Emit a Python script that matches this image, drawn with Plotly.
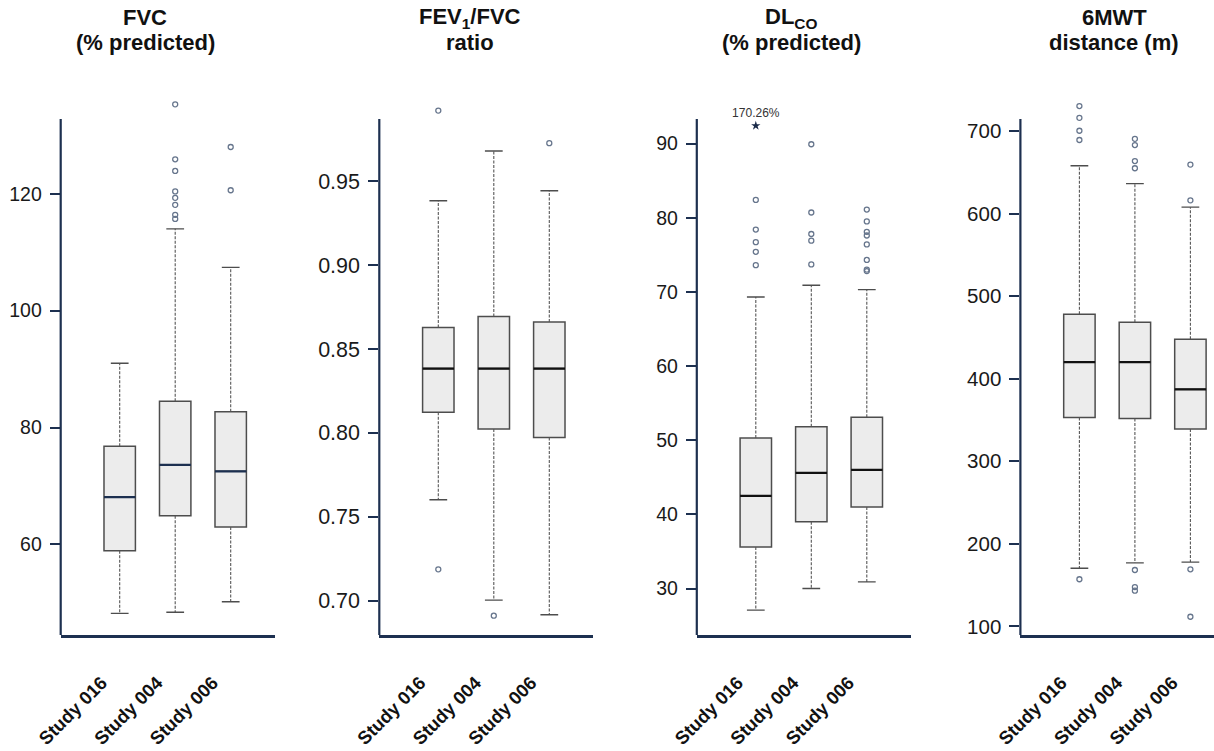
import plotly.graph_objects as go

# ---------------- data ----------------
studies = ["Study 016", "Study 004", "Study 006"]

fvc_q1 = [58.9, 64.9, 63.0]
fvc_med = [68.1, 73.6, 72.5]
fvc_q3 = [76.8, 84.5, 82.7]
fvc_lo = [48.2, 48.4, 50.2]
fvc_hi = [91.0, 114.0, 107.4]
fvc_out = [[], [135.3, 125.9, 123.9, 120.4, 119.3, 118.1, 116.4, 115.7], [128.0, 120.6]]

ratio_q1 = [0.8123, 0.8023, 0.7972]
ratio_med = [0.8383, 0.8383, 0.8383]
ratio_q3 = [0.8628, 0.8694, 0.8660]
ratio_lo = [0.7602, 0.7004, 0.6917]
ratio_hi = [0.9383, 0.9679, 0.9443]
ratio_out = [[0.992, 0.7187], [0.6911], [0.9726]]

dlco_q1 = [35.6, 39.0, 41.0]
dlco_med = [42.5, 45.6, 46.0]
dlco_q3 = [50.3, 51.8, 53.1]
dlco_lo = [27.1, 30.0, 30.9]
dlco_hi = [69.3, 70.9, 70.3]
dlco_out = [[82.4, 78.4, 76.7, 75.4, 73.6],
            [89.9, 80.7, 77.8, 76.9, 73.7],
            [81.1, 79.5, 78.1, 77.6, 76.4, 74.3, 73.0, 72.8]]
dlco_extreme_pos = [92.4]          # off-scale value drawn at top of axis
dlco_extreme_label = ["170.26%"]

mwt_q1 = [353.0, 351.7, 339.2]
mwt_med = [420.1, 420.1, 387.2]
mwt_q3 = [478.0, 468.5, 447.8]
mwt_lo = [170.5, 177.0, 177.9]
mwt_hi = [658.0, 636.3, 607.8]
mwt_out = [[730.2, 715.9, 700.3, 689.1, 157.1],
           [690.5, 683.0, 663.6, 654.9, 168.3, 147.6, 143.3],
           [659.3, 616.0, 169.2, 111.7]]

titles = [("<b>FVC</b>", "<b>(% predicted)</b>"),
          ("<b>FEV<sub>1</sub>/FVC</b>", "<b>ratio</b>"),
          ("<b>DL<sub>CO</sub></b>", "<b>(% predicted)</b>"),
          ("<b>6MWT</b>", "<b>distance (m)</b>")]

fvc_ticks = [60, 80, 100, 120]
ratio_ticks = [0.70, 0.75, 0.80, 0.85, 0.90, 0.95]
dlco_ticks = [30, 40, 50, 60, 70, 80, 90]
mwt_ticks = [100, 200, 300, 400, 500, 600, 700]

# ---------------- styling / layout ----------------
W, H = 1214, 751
NAVY = "#1d3050"
FONT = "Liberation Sans, Arial, sans-serif"
FILL = "#ececec"
EDGE = "#4d4d4d"

panels = [
    dict(q1=fvc_q1, med=fvc_med, q3=fvc_q3, lo=fvc_lo, hi=fvc_hi, out=fvc_out,
         ticks=fvc_ticks, fmt="", rng=[44.5, 136.9], medc=NAVY, fs=19.5),
    dict(q1=ratio_q1, med=ratio_med, q3=ratio_q3, lo=ratio_lo, hi=ratio_hi, out=ratio_out,
         ticks=ratio_ticks, fmt=".2f", rng=[0.6796, 1.0013], medc="#111111", fs=21.5),
    dict(q1=dlco_q1, med=dlco_med, q3=dlco_q3, lo=dlco_lo, hi=dlco_hi, out=dlco_out,
         ticks=dlco_ticks, fmt="", rng=[23.74, 96.54], medc="#111111", fs=19.5),
    dict(q1=mwt_q1, med=mwt_med, q3=mwt_q3, lo=mwt_lo, hi=mwt_hi, out=mwt_out,
         ticks=mwt_ticks, fmt="", rng=[89.6, 743.6], medc="#111111", fs=20.5),
]

left_px = [60.7, 379.3, 696.8, 1020.4]
title_cx = [145, 470, 791, 1114]
panel_w = 214.0
spacing = 55.5
x_left = -59.0 / spacing
ydom = [1 - 635 / H, 1 - 95 / H]
axis_top_frac = (635 - 119) / 540.0

BOXW = 0.566
HALF = BOXW / 2
CAP = 0.16

fig = go.Figure()
layout = dict(width=W, height=H, margin=dict(l=0, r=0, t=0, b=0, autoexpand=False),
              paper_bgcolor="white", plot_bgcolor="white", showlegend=False,
              font=dict(family=FONT, color="#1a1a1a"))
shapes = []
annotations = []

for k, p in enumerate(panels):
    sfx = "" if k == 0 else str(k + 1)
    xa, ya = "x" + sfx, "y" + sfx
    x0 = left_px[k] / W
    x1 = min((left_px[k] + panel_w) / W, 1.0)
    xr = [x_left, x_left + (x1 - x0) * W / spacing]
    pos = list(range(len(studies)))

    layout["xaxis" + sfx] = dict(domain=[x0, x1], range=xr, anchor=ya,
                                 tickvals=pos, ticktext=studies, tickangle=-45,
                                 tickfont=dict(size=18.5, family=FONT, weight="bold", color="#111111"),
                                 showline=True, linecolor=NAVY, linewidth=2.5,
                                 ticks="", showgrid=False, zeroline=False, automargin=False,
                                 ticklabelstandoff=27, ticklabelshift=-18, fixedrange=True)
    layout["yaxis" + sfx] = dict(domain=ydom, range=p["rng"], anchor=xa,
                                 tickvals=p["ticks"], tickformat=p["fmt"],
                                 tickfont=dict(size=p["fs"], family=FONT, color="#1a1a1a"),
                                 showline=False, ticks="outside", ticklen=10, tickwidth=2,
                                 tickcolor=NAVY, showgrid=False, zeroline=False, automargin=False,
                                 ticklabelstandoff=4, fixedrange=True)
    shapes.append(dict(type="line", xref=xa + " domain", yref=ya + " domain",
                       x0=0, x1=0, y0=0, y1=axis_top_frac,
                       line=dict(color=NAVY, width=2.2)))

    # whiskers (dashed)
    wx, wy, cx, cy = [], [], [], []
    for i in pos:
        wx += [i, i, None, i, i, None]
        wy += [p["q3"][i], p["hi"][i], None, p["q1"][i], p["lo"][i], None]
        cx += [i - CAP, i + CAP, None, i - CAP, i + CAP, None]
        cy += [p["hi"][i], p["hi"][i], None, p["lo"][i], p["lo"][i], None]
    fig.add_trace(go.Scatter(x=wx, y=wy, mode="lines", xaxis=xa, yaxis=ya,
                             line=dict(color="#555555", width=1.1, dash="3px,1.5px"),
                             hoverinfo="skip"))
    fig.add_trace(go.Scatter(x=cx, y=cy, mode="lines", xaxis=xa, yaxis=ya,
                             line=dict(color=EDGE, width=1.4), hoverinfo="skip"))
    # boxes
    fig.add_trace(go.Box(x=pos, q1=p["q1"], median=p["med"], q3=p["q3"],
                         lowerfence=p["q1"], upperfence=p["q3"],
                         width=BOXW, whiskerwidth=0, boxpoints=False,
                         fillcolor=FILL, line=dict(color=EDGE, width=1.5),
                         xaxis=xa, yaxis=ya))
    # medians
    mx, my = [], []
    for i in pos:
        mx += [i - HALF, i + HALF, None]
        my += [p["med"][i], p["med"][i], None]
    fig.add_trace(go.Scatter(x=mx, y=my, mode="lines", xaxis=xa, yaxis=ya,
                             line=dict(color=p["medc"], width=2.3), hoverinfo="skip"))
    # outliers
    ox, oy = [], []
    for i in pos:
        ox += [i] * len(p["out"][i])
        oy += p["out"][i]
    fig.add_trace(go.Scatter(x=ox, y=oy, mode="markers", xaxis=xa, yaxis=ya,
                             cliponaxis=False,
                             marker=dict(symbol="circle-open", size=5,
                                         color="#66758c", line=dict(width=1.3))))
    if k == 2:
        fig.add_trace(go.Scatter(x=[0], y=dlco_extreme_pos, mode="markers+text",
                                 text=dlco_extreme_label, textposition="top center",
                                 textfont=dict(size=12, family=FONT, color="#333333"),
                                 cliponaxis=False, xaxis=xa, yaxis=ya,
                                 marker=dict(symbol="star", size=7, color="#1a2a48")))

    annotations.append(dict(text=titles[k][0], x=title_cx[k] / W, y=1 - 18 / H,
                            xref="paper", yref="paper", showarrow=False,
                            xanchor="center", yanchor="middle",
                            font=dict(size=22, family=FONT, color="#111111")))
    annotations.append(dict(text=titles[k][1], x=title_cx[k] / W, y=1 - 43 / H,
                            xref="paper", yref="paper", showarrow=False,
                            xanchor="center", yanchor="middle",
                            font=dict(size=22, family=FONT, color="#111111")))

layout["shapes"] = shapes
layout["annotations"] = annotations
fig.update_layout(**layout)
fig.write_html("out.html", config={"displayModeBar": False},
               post_script="document.body.style.margin='0';document.body.style.overflow='hidden';")
